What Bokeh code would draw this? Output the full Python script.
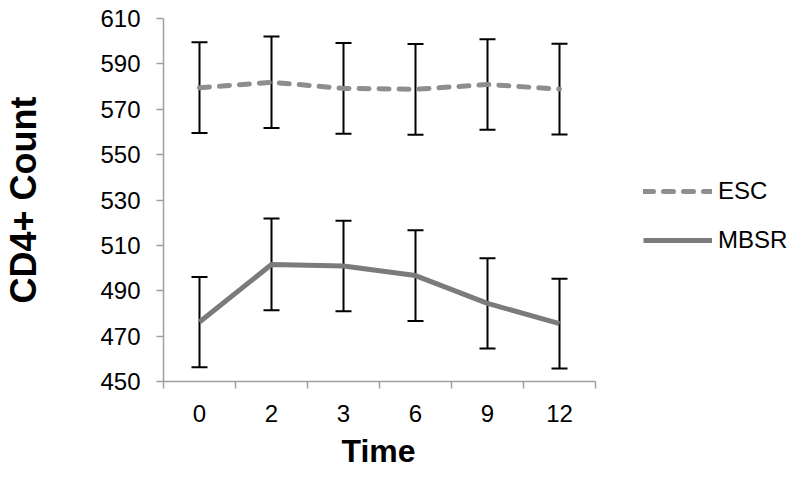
from bokeh.plotting import figure
from bokeh.models import (FixedTicker, Legend, LegendItem, ColumnDataSource, Whisker,
                          TeeHead, Title)
from bokeh.embed import file_html
from bokeh.resources import INLINE

time_labels = ["0", "2", "3", "6", "9", "12"]
esc_mean = [579.5, 581.9, 579.2, 578.8, 580.9, 578.9]
esc_err = [20, 20.2, 20, 20, 19.9, 20]
mbsr_mean = [476.2, 501.6, 500.9, 496.7, 484.4, 475.5]
mbsr_err = [19.9, 20.2, 19.9, 20, 19.9, 19.8]
y_ticks = [450, 470, 490, 510, 530, 550, 570, 590, 610]

x = list(range(len(time_labels)))
FONT = "Liberation Sans"

n = len(time_labels)
AXIS_W = 432          # width of the axis part of the frame, px
FRAME_W = 632         # frame extends right to host the legend
x_end = -0.5 + n * FRAME_W / AXIS_W

p = figure(frame_width=FRAME_W, frame_height=363, x_range=(-0.5, x_end),
           y_range=(y_ticks[0], y_ticks[-1]), output_backend="svg",
           toolbar_location=None, min_border_left=161, min_border_right=0,
           min_border_top=18, min_border_bottom=0)
p.grid.visible = False
p.outline_line_color = None
p.background_fill_color = "white"
p.border_fill_color = "white"

AX = "#a0a0a0"
for ax in (p.xaxis[0], p.yaxis[0]):
    ax.axis_line_color = AX
    ax.axis_line_width = 1.5
    ax.major_tick_line_color = AX
    ax.minor_tick_line_color = AX
    ax.major_tick_line_width = 1.5
    ax.minor_tick_line_width = 1.5
    ax.major_label_text_font = FONT
    ax.major_label_text_font_size = "24px"
    ax.major_label_text_color = "black"
    ax.axis_label_text_font = FONT
    ax.axis_label_text_font_style = "bold"
    ax.axis_label_text_color = "black"

p.xaxis.bounds = (-0.5, n - 0.5)
p.xaxis.ticker = FixedTicker(ticks=x, minor_ticks=[i - 0.5 for i in range(n + 1)])
p.xaxis.major_label_overrides = {i: lab for i, lab in enumerate(time_labels)}
p.xaxis.major_tick_out = 0
p.xaxis.major_tick_in = 0
p.xaxis.minor_tick_out = 7
p.xaxis.minor_tick_in = 0
p.xaxis.major_label_standoff = 16

# x-axis title centred under the axis part of the frame
p.add_layout(Title(text="Time", align="left", offset=178, standoff=12,
                   vertical_align="bottom", text_font=FONT, text_font_size="32px",
                   text_font_style="bold", text_color="black"), "below")

p.yaxis.ticker = FixedTicker(ticks=y_ticks)
p.yaxis.major_tick_out = 7
p.yaxis.major_tick_in = 0
p.yaxis.minor_tick_out = 0
p.yaxis.minor_tick_in = 0
p.yaxis.major_label_standoff = 16
p.yaxis.axis_label = "CD4+ Count"
p.yaxis.axis_label_text_font_size = "36px"
p.yaxis.axis_label_standoff = 53

src = ColumnDataSource(dict(
    x=x,
    esc=esc_mean,
    esc_lo=[m - e for m, e in zip(esc_mean, esc_err)],
    esc_hi=[m + e for m, e in zip(esc_mean, esc_err)],
    mbsr=mbsr_mean,
    mbsr_lo=[m - e for m, e in zip(mbsr_mean, mbsr_err)],
    mbsr_hi=[m + e for m, e in zip(mbsr_mean, mbsr_err)],
))

for lo, hi in (("esc_lo", "esc_hi"), ("mbsr_lo", "mbsr_hi")):
    w = Whisker(source=src, base="x", lower=lo, upper=hi, dimension="height",
                line_color="black", line_width=2,
                upper_head=TeeHead(size=16, line_color="black", line_width=2),
                lower_head=TeeHead(size=16, line_color="black", line_width=2),
                level="underlay")
    p.add_layout(w)

r_esc = p.line("x", "esc", source=src, line_color="#8e8e8e", line_width=5,
               line_dash="10 10", line_cap="round")
r_mbsr = p.line("x", "mbsr", source=src, line_color="#7b7b7b", line_width=5)

legend = Legend(items=[LegendItem(label="ESC", renderers=[r_esc]),
                       LegendItem(label="MBSR", renderers=[r_mbsr])],
                location=(480, 127), padding=0, margin=0, spacing=21,
                glyph_width=69, glyph_height=28, label_height=28,
                label_standoff=6, label_text_font=FONT,
                label_text_font_size="24px", label_text_color="black",
                border_line_alpha=0, background_fill_alpha=0)
p.add_layout(legend)

open("out.html", "w").write(file_html(p, INLINE))
